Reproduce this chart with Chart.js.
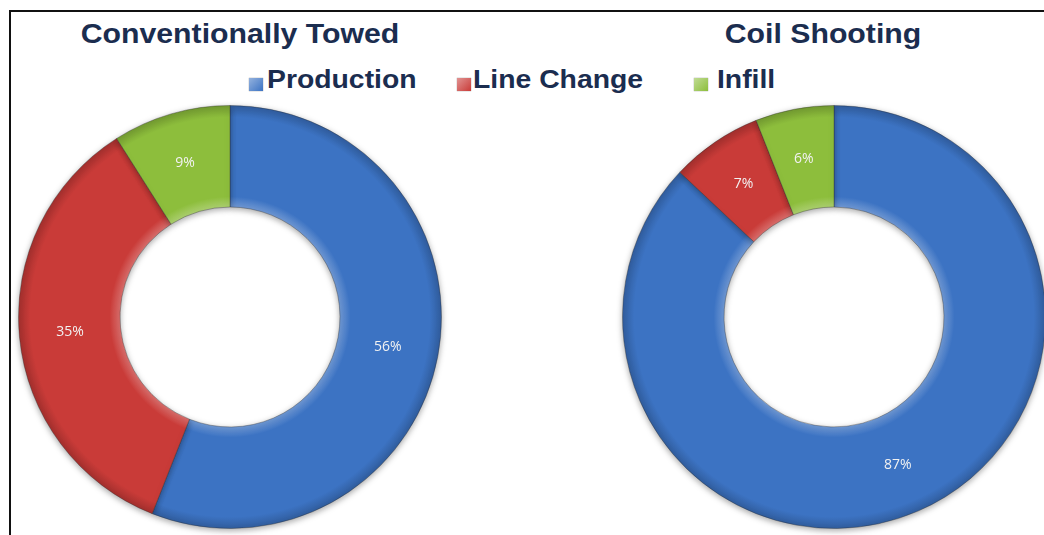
<!DOCTYPE html>
<html lang="en">
<head>
    <meta charset="UTF-8">
    <title>Conventionally Towed vs Coil Shooting</title>
    <script src="https://cdn.jsdelivr.net/npm/chart.js"></script>
    <style>
        body { margin: 0; background: white; }
        .frame { position: relative; width: 1044px; height: 535px; overflow: hidden; }
        .border-top { position: absolute; left: 9px; top: 10px; width: 1040px; height: 2px; background: #111; }
        .border-left { position: absolute; left: 9px; top: 10px; width: 2px; height: 530px; background: #111; }
        .titulo { position: absolute; top: 18px; font: bold 28px "Liberation Sans", Arial, sans-serif; color: #1b2d4f; text-align: center; width: 460px; transform: scaleX(1.08); }
        .item { position: absolute; top: 64px; font: bold 26px "Liberation Sans", Arial, sans-serif; color: #1b2d4f; white-space: nowrap; transform: scaleX(1.09); transform-origin: left center; }
        .box { position: absolute; top: 78px; width: 14px; height: 13px; box-shadow: 0 0 1px rgba(0,0,0,0.5); }
        canvas { position: absolute; }
    </style>
</head>
<body>
<div class="frame">
    <div class="border-top"></div>
    <div class="border-left"></div>
    <div class="titulo" id="tituloA" style="left: 10px;"></div>
    <div class="titulo" id="tituloB" style="left: 593px;"></div>
    <div id="legenda"></div>
    <canvas id="graficoA" width="440" height="440" style="left: 10px; top: 97px;"></canvas>
    <canvas id="graficoB" width="440" height="440" style="left: 614px; top: 97px;"></canvas>
</div>
<script>
    // categorias e valores (%)
    const categorias = ['Production', 'Line Change', 'Infill'];
    const cores = ['#3c73c3', '#c93b38', '#8dbe3c'];
    const titulos = ['Conventionally Towed', 'Coil Shooting'];
    const valoresTowed = [56, 35, 9];
    const valoresCoil = [87, 7, 6];

    document.getElementById('tituloA').textContent = titulos[0];
    document.getElementById('tituloB').textContent = titulos[1];

    // legenda compartilhada (posição x da caixinha e do texto)
    const posLegenda = [[249, 267], [457, 473], [694, 717]];
    const legenda = document.getElementById('legenda');
    categorias.forEach(function (nome, i) {
        const box = document.createElement('div');
        box.className = 'box';
        box.style.left = posLegenda[i][0] + 'px';
        box.style.background = 'linear-gradient(135deg, ' + clarear(cores[i], 0.45) + ', ' + cores[i] + ')';
        legenda.appendChild(box);
        const txt = document.createElement('div');
        txt.className = 'item';
        txt.style.left = posLegenda[i][1] + 'px';
        txt.textContent = nome;
        legenda.appendChild(txt);
    });

    function clarear(hex, f) {
        const n = parseInt(hex.slice(1), 16);
        let r = n >> 16, g = (n >> 8) & 255, b = n & 255;
        r = Math.round(r + (255 - r) * f); g = Math.round(g + (255 - g) * f); b = Math.round(b + (255 - b) * f);
        return `rgb(${r},${g},${b})`;
    }
    function escurecer(hex, f) {
        const n = parseInt(hex.slice(1), 16);
        return `rgb(${Math.round((n >> 16) * f)},${Math.round(((n >> 8) & 255) * f)},${Math.round((n & 255) * f)})`;
    }

    // gradiente radial para dar o efeito de relevo
    function preenchimento(context) {
        const base = cores[context.dataIndex];
        const area = context.chart.chartArea;
        if (!area) return base;
        const cx = (area.left + area.right) / 2, cy = (area.top + area.bottom) / 2;
        const r = Math.min(area.right - area.left, area.bottom - area.top) / 2;
        const g = context.chart.ctx.createRadialGradient(cx, cy, r * 0.52, cx, cy, r);
        g.addColorStop(0, clarear(base, 0.25));
        g.addColorStop(0.1, base);
        g.addColorStop(0.88, base);
        g.addColorStop(1, escurecer(base, 0.8));
        return g;
    }

    const sombra = {
        id: 'sombra',
        beforeDatasetsDraw(chart) {
            const ctx = chart.ctx;
            ctx.save();
            ctx.shadowColor = 'rgba(0,0,0,0.35)';
            ctx.shadowBlur = 6;
            ctx.shadowOffsetY = 2;
        },
        afterDatasetsDraw(chart) {
            chart.ctx.restore();
        }
    };

    // rótulos de porcentagem dentro de cada fatia
    const rotulos = {
        id: 'rotulos',
        afterDatasetsDraw(chart) {
            const ctx = chart.ctx;
            const meta = chart.getDatasetMeta(0);
            const dados = chart.data.datasets[0].data;
            ctx.save();
            ctx.font = '14px "Open Sans", sans-serif';
            ctx.fillStyle = '#f2f2f2';
            ctx.textAlign = 'center';
            ctx.textBaseline = 'middle';
            meta.data.forEach(function (arco, i) {
                const p = arco.tooltipPosition();
                ctx.fillText(dados[i] + '%', p.x, p.y);
            });
            ctx.restore();
        }
    };

    function criarGrafico(id, valores) {
        return new Chart(document.getElementById(id), {
            type: 'doughnut',
            data: {
                labels: categorias,
                datasets: [{
                    data: valores,
                    backgroundColor: preenchimento,
                    borderColor: 'rgba(40,40,40,0.35)',
                    borderWidth: 1
                }]
            },
            options: {
                responsive: false,
                animation: false,
                cutout: '52%',
                layout: { padding: 8 },
                plugins: {
                    legend: { display: false },
                    tooltip: { enabled: false }
                }
            },
            plugins: [sombra, rotulos]
        });
    }

    criarGrafico('graficoA', valoresTowed);
    criarGrafico('graficoB', valoresCoil);
</script>
</body>
</html>
